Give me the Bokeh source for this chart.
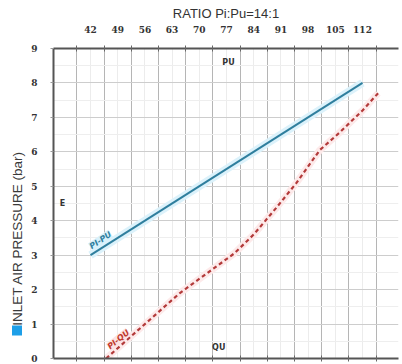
from bokeh.plotting import figure
from bokeh.models import Range1d, FixedTicker, LinearAxis, Label
from bokeh.core.properties import value
from bokeh.layouts import row
from bokeh.embed import file_html
from bokeh.resources import INLINE
import math

# ---- data ----
pu_ticks = [42, 49, 56, 63, 70, 77, 84, 91, 98, 105, 112]
grid_x = [38.5, 45.5, 52.5, 59.5, 66.5, 73.5, 80.5, 87.5, 94.5, 101.5, 108.5, 115.5]
y_ticks = [0, 1, 2, 3, 4, 5, 6, 7, 8, 9]

pipu_x = [42, 112]
pipu_y = [3, 8]

piqu_x = [46, 55, 65, 79, 84, 90, 95, 101, 106, 112, 116]
piqu_y = [0, 0.9, 1.9, 3.05, 3.6, 4.4, 5.1, 6.05, 6.55, 7.2, 7.7]

y_title = "INLET AIR PRESSURE (bar)"
LEFT_W = 26
TOTAL_W = 402
H = 364

# ---- left strip: axis title with its blue marker ----
q = figure(width=LEFT_W, height=H, x_range=Range1d(0, LEFT_W), y_range=Range1d(H, 0),
           output_backend="svg", toolbar_location=None,
           x_axis_location=None, y_axis_location=None,
           min_border_left=0, min_border_right=0, min_border_top=0, min_border_bottom=0)
q.outline_line_color = None
q.xgrid.visible = False
q.ygrid.visible = False
q.text(x=[17], y=[223], text=[y_title], angle=math.pi / 2, text_align="center",
       text_baseline="middle", text_font=value("Liberation Sans"), text_font_size="13.5px",
       text_color="#3a3a3a")
q.scatter(x=[16.5], y=[331], marker="square", size=10, fill_color="#1e9fe8", line_color=None)

# ---- main chart ----
p = figure(width=TOTAL_W - LEFT_W, height=H, x_range=Range1d(32.48, 121.26), y_range=Range1d(0, 9),
           output_backend="svg", toolbar_location=None,
           min_border_left=27, min_border_right=4, min_border_top=48, min_border_bottom=6,
           title="RATIO Pi:Pu=14:1")
p.outline_line_color = None
p.background_fill_color = "white"

p.title.align = "center"
p.title.standoff = 4
p.title.text_font = "Liberation Sans"
p.title.text_font_size = "13px"
p.title.text_font_style = "normal"
p.title.text_color = "#333333"

# bottom axis (ticks only)
bx = p.xaxis[0]
bx.ticker = FixedTicker(ticks=grid_x)
bx.major_label_text_font_size = "0px"
bx.major_label_standoff = 0
bx.major_tick_in = 3
bx.major_tick_out = 3
bx.major_tick_line_color = "#666666"
bx.minor_tick_line_color = None
bx.axis_line_color = "#555555"
bx.axis_line_width = 2

# top axis
tx = LinearAxis(ticker=FixedTicker(ticks=pu_ticks, minor_ticks=grid_x))
tx.major_tick_line_color = None
tx.minor_tick_in = 3
tx.minor_tick_out = 3
tx.minor_tick_line_color = "#666666"
tx.major_label_text_font = "DejaVu Serif"
tx.major_label_text_font_style = "bold"
tx.major_label_text_font_size = "9px"
tx.major_label_text_color = "#333333"
tx.major_label_standoff = 10
tx.axis_line_color = "#555555"
tx.axis_line_width = 2
p.add_layout(tx, "above")

# left axis
ly = p.yaxis[0]
ly.ticker = FixedTicker(ticks=y_ticks)
ly.major_label_text_font = "DejaVu Serif"
ly.major_label_text_font_style = "bold"
ly.major_label_text_font_size = "9px"
ly.major_label_text_color = "#333333"
ly.major_tick_in = 0
ly.major_tick_out = 3
ly.major_tick_line_color = "#999999"
ly.minor_tick_line_color = None
ly.major_label_standoff = 13
ly.axis_line_color = "#555555"
ly.axis_line_width = 2

# grids
p.xgrid.ticker = FixedTicker(ticks=grid_x, minor_ticks=pu_ticks)
p.xgrid.grid_line_color = "#b5b5b5"
p.xgrid.minor_grid_line_color = "#ececec"
p.ygrid.ticker = FixedTicker(ticks=y_ticks, minor_ticks=[v + 0.5 for v in y_ticks[:-1]])
p.ygrid.grid_line_color = "#cdcdcd"
p.ygrid.minor_grid_line_color = "#eeeeee"

# lines with glow
p.line(pipu_x, pipu_y, line_color="#dcf2fb", line_width=8)
p.line(pipu_x, pipu_y, line_color="#2f7f9e", line_width=2)
p.line(piqu_x, piqu_y, line_color="#fdeaea", line_width=7)
p.line(piqu_x, piqu_y, line_color="#b33a3a", line_width=2.2, line_dash="4 3")

# labels
p.add_layout(Label(x=44.6, y=3.43, text="PI-PU", angle=math.radians(34), text_align="center",
                   text_baseline="middle", text_font="DejaVu Sans", text_font_size="8px",
                   text_font_style="bold italic", text_color="#2f7f9e",
                   background_fill_color="#d8f1fb"))
p.add_layout(Label(x=49.2, y=0.55, text="PI-QU", angle=math.radians(39), text_align="center",
                   text_baseline="middle", text_font="DejaVu Sans", text_font_size="8px",
                   text_font_style="bold italic", text_color="#c0392b",
                   background_fill_color="#fde2e2"))
p.add_layout(Label(x=77.5, y=8.6, text="PU", text_align="center", text_baseline="middle",
                   text_font="DejaVu Sans", text_font_size="8px", text_font_style="bold",
                   text_color="#333333"))
p.add_layout(Label(x=75, y=0.32, text="QU", text_align="center", text_baseline="middle",
                   text_font="DejaVu Sans", text_font_size="8px", text_font_style="bold",
                   text_color="#333333"))
p.add_layout(Label(x=34.8, y=4.5, text="E", text_align="center", text_baseline="middle",
                   text_font="DejaVu Sans", text_font_size="8px", text_font_style="bold",
                   text_color="#333333"))

layout = row(q, p, spacing=0)
open("out.html", "w").write(file_html(layout, INLINE))
